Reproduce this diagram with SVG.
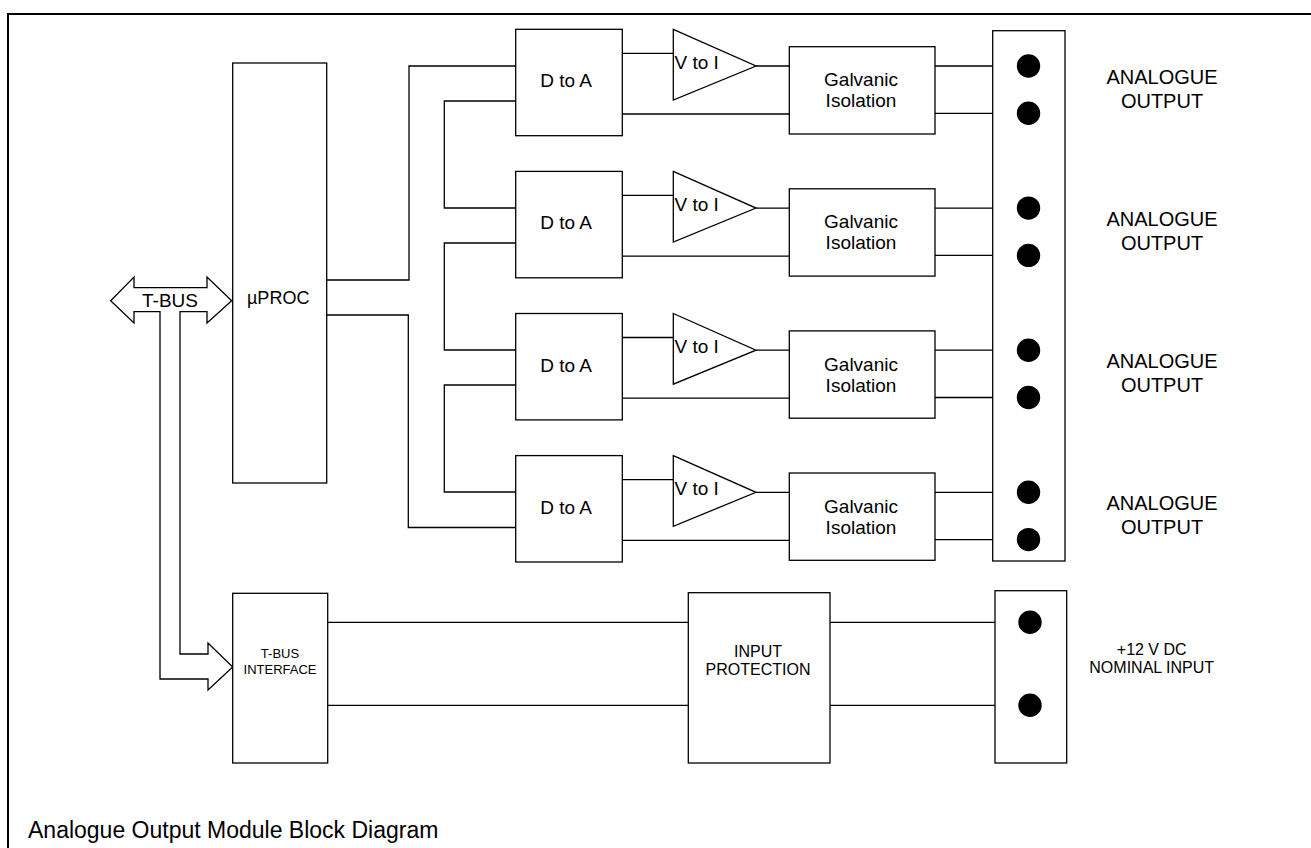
<svg xmlns="http://www.w3.org/2000/svg" width="1311" height="848" viewBox="0 0 1311 848">
<defs>
<style>
.box{fill:#fff;stroke:#000;stroke-width:1.3}
.ln{fill:none;stroke:#000;stroke-width:1.3}
.dot{fill:#000}
.t{font-family:"Liberation Sans",Arial,sans-serif;font-size:19px;fill:#000}
.m{text-anchor:middle}
.s{font-size:13px}
.p{font-size:16px}
.n{font-size:16px}
.a{font-size:20px}
</style>
</defs>
<rect width="1311" height="848" fill="#fff"/>
<path d="M8,848 V14 H1311" fill="none" stroke="#000" stroke-width="2"/>

<g id="uproc">
<rect class="box" x="232.7" y="63" width="94" height="420"/>
<text class="t" x="247" y="304" style="font-size:18px">µPROC</text>
</g>

<g id="tbus">
<polygon class="box" points="110.7,300.7 134,277 134,287.7 207,287.7 207,277 231.7,300.7 207,323 207,311.7 180,311.7 180,654 208,654 208,643 232.7,667 208,690 208,679 160,679 160,311.7 134,311.7 134,323"/>
<text class="t m" x="170" y="306.5">T-BUS</text>
</g>

<g id="connectors">
<path class="ln" d="M326.7,280 H409 V66 H515.7"/>
<path class="ln" d="M326.7,315 H408.3 V527.5 H515.7"/>
<path class="ln" d="M515.7,101 H444.3 V208 H515.7"/>
<path class="ln" d="M515.7,243 H444.3 V350 H515.7"/>
<path class="ln" d="M515.7,385 H444.3 V492 H515.7"/>
<path class="ln" d="M327.7,622.3 H688.3 M327.7,705.3 H688.3"/>
<path class="ln" d="M830,622.3 H1030 M830,705.3 H1030"/>
</g>

<g id="row1" transform="translate(0,29.3)">
<g id="dta1"><rect class="box" x="515.7" y="0" width="106.6" height="106.4"/><text class="t m" x="566" y="58">D to A</text></g>
<g id="vti1"><polygon class="box" points="673.3,0 756,36.7 673.3,70.7"/><text class="t" x="674.5" y="39.5">V to I</text></g>
<g id="gal1"><rect class="box" x="789.3" y="17.4" width="145.7" height="87.3"/><text class="t m" x="861" y="57">Galvanic</text><text class="t m" x="861" y="78">Isolation</text></g>
<path class="ln" d="M622.3,24 H673.3 M756,36.7 H789.3 M622.3,84.7 H789.3 M935,36.7 H1028.5 M935,84 H1028.5"/>
</g>
<g id="row2" transform="translate(0,171.4)">
<g id="dta2"><rect class="box" x="515.7" y="0" width="106.6" height="106.4"/><text class="t m" x="566" y="58">D to A</text></g>
<g id="vti2"><polygon class="box" points="673.3,0 756,36.7 673.3,70.7"/><text class="t" x="674.5" y="39.5">V to I</text></g>
<g id="gal2"><rect class="box" x="789.3" y="17.4" width="145.7" height="87.3"/><text class="t m" x="861" y="57">Galvanic</text><text class="t m" x="861" y="78">Isolation</text></g>
<path class="ln" d="M622.3,24 H673.3 M756,36.7 H789.3 M622.3,84.7 H789.3 M935,36.7 H1028.5 M935,84 H1028.5"/>
</g>
<g id="row3" transform="translate(0,313.5)">
<g id="dta3"><rect class="box" x="515.7" y="0" width="106.6" height="106.4"/><text class="t m" x="566" y="58">D to A</text></g>
<g id="vti3"><polygon class="box" points="673.3,0 756,36.7 673.3,70.7"/><text class="t" x="674.5" y="39.5">V to I</text></g>
<g id="gal3"><rect class="box" x="789.3" y="17.4" width="145.7" height="87.3"/><text class="t m" x="861" y="57">Galvanic</text><text class="t m" x="861" y="78">Isolation</text></g>
<path class="ln" d="M622.3,24 H673.3 M756,36.7 H789.3 M622.3,84.7 H789.3 M935,36.7 H1028.5 M935,84 H1028.5"/>
</g>
<g id="row4" transform="translate(0,455.6)">
<g id="dta4"><rect class="box" x="515.7" y="0" width="106.6" height="106.4"/><text class="t m" x="566" y="58">D to A</text></g>
<g id="vti4"><polygon class="box" points="673.3,0 756,36.7 673.3,70.7"/><text class="t" x="674.5" y="39.5">V to I</text></g>
<g id="gal4"><rect class="box" x="789.3" y="17.4" width="145.7" height="87.3"/><text class="t m" x="861" y="57">Galvanic</text><text class="t m" x="861" y="78">Isolation</text></g>
<path class="ln" d="M622.3,24 H673.3 M756,36.7 H789.3 M622.3,84.7 H789.3 M935,36.7 H1028.5 M935,84 H1028.5"/>
</g>

<g id="outterm">
<rect class="box" x="992.7" y="30.7" width="72.3" height="530.3"/>
<circle class="dot" cx="1028.5" cy="66" r="11.7"/><circle class="dot" cx="1028.5" cy="113.3" r="11.7"/>
<circle class="dot" cx="1028.5" cy="208.1" r="11.7"/><circle class="dot" cx="1028.5" cy="255.4" r="11.7"/>
<circle class="dot" cx="1028.5" cy="350.2" r="11.7"/><circle class="dot" cx="1028.5" cy="397.5" r="11.7"/>
<circle class="dot" cx="1028.5" cy="492.3" r="11.7"/><circle class="dot" cx="1028.5" cy="539.6" r="11.7"/>
</g>
<g id="labels">
<text class="t m a" x="1162" y="84">ANALOGUE</text><text class="t m a" x="1162" y="108">OUTPUT</text>
<text class="t m a" x="1162" y="226">ANALOGUE</text><text class="t m a" x="1162" y="250">OUTPUT</text>
<text class="t m a" x="1162" y="368">ANALOGUE</text><text class="t m a" x="1162" y="392">OUTPUT</text>
<text class="t m a" x="1162" y="510">ANALOGUE</text><text class="t m a" x="1162" y="534">OUTPUT</text>
</g>

<g id="tbusif">
<rect class="box" x="232.7" y="593.3" width="95" height="169.7"/>
<text class="t m s" x="280" y="658">T-BUS</text>
<text class="t m s" x="280" y="674">INTERFACE</text>
</g>
<g id="inprot">
<rect class="box" x="688.3" y="592.7" width="141.7" height="170.3"/>
<text class="t m p" x="758" y="657">INPUT</text>
<text class="t m p" x="758" y="675">PROTECTION</text>
</g>
<g id="interm">
<rect class="box" x="995" y="590.7" width="71.7" height="172.3"/>
<circle class="dot" cx="1030" cy="622.3" r="11.7"/>
<circle class="dot" cx="1030" cy="705.3" r="11.7"/>
</g>
<g id="inlabel">
<text class="t m n" x="1151.7" y="655">+12 V DC</text>
<text class="t m n" x="1151.7" y="673">NOMINAL INPUT</text>
</g>
<text class="t" x="28" y="838" style="font-size:23px">Analogue Output Module Block Diagram</text>
</svg>
